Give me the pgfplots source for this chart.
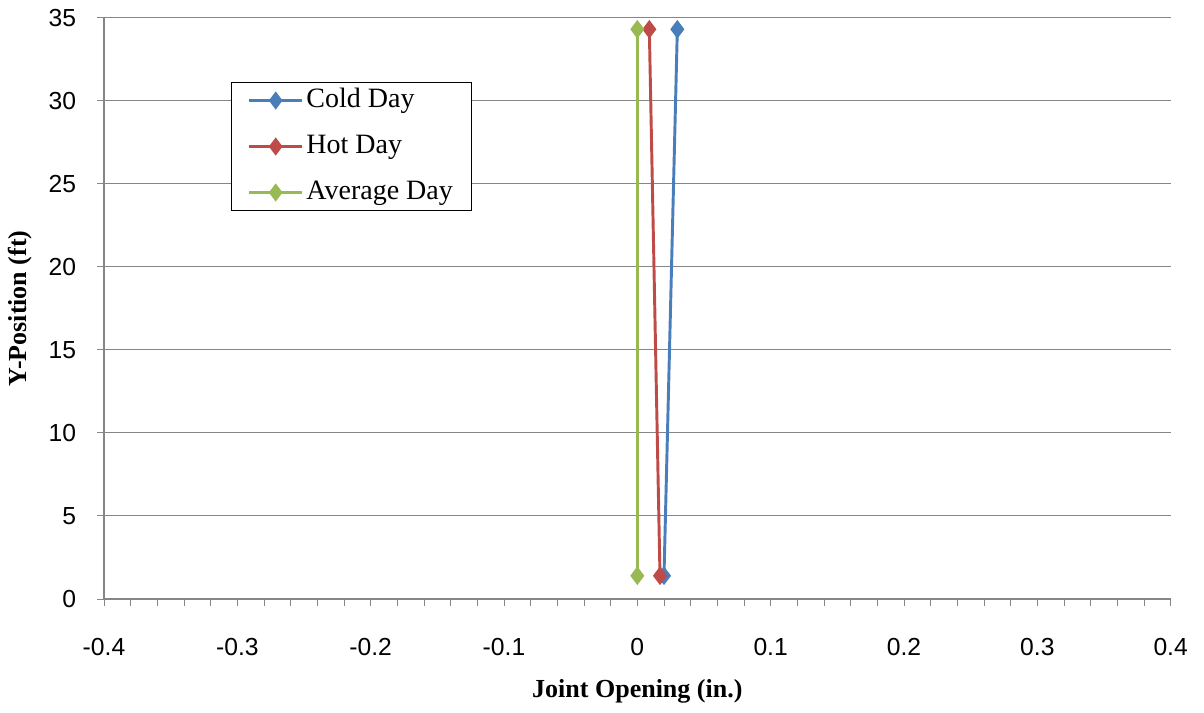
\documentclass[border=0pt]{standalone}
\usepackage{pgfplots}
\pgfplotsset{compat=1.18}
\usepackage{fontspec}
\setmainfont{Liberation Serif}
\setsansfont{Liberation Sans}
\definecolor{cblue}{HTML}{4A7EBB}
\definecolor{cred}{HTML}{BE4B48}
\definecolor{cgreen}{HTML}{98B954}
\definecolor{gridc}{HTML}{868686}
\begin{document}
\begin{tikzpicture}
\useasboundingbox (-78pt,-85.5pt) rectangle (825pt,449.25pt);
\begin{axis}[
  at={(0,0)}, anchor=south west,
  scale only axis,
  width=800pt, height=436pt,
  xmin=-0.4, xmax=0.4, ymin=0, ymax=35,
  xtick={-0.4,-0.3,-0.2,-0.1,0,0.1,0.2,0.3,0.4},
  xticklabels={-0.4,-0.3,-0.2,-0.1,0,0.1,0.2,0.3,0.4},
  minor x tick num=4,
  ytick={0,5,...,35},
  axis lines=left,
  axis line style={gridc, -, line width=0.8pt},
  tick style={gridc, line width=0.7pt},
  major tick length=5pt, minor tick length=5pt,
  tick align=outside,
  ymajorgrids, grid style={gridc, line width=0.8pt},
  /pgf/number format/assume math mode=true,
  tick label style={font=\sffamily\fontsize{18.5}{22}\selectfont},
  xticklabel style={anchor=center, yshift=-31pt},
  yticklabel style={anchor=east, inner sep=0pt, xshift=-15.75pt},
  xlabel={\textbf{Joint Opening (in.)}},
  ylabel={\textbf{Y-Position (ft)}},
  label style={font=\fontsize{19.5}{23}\selectfont},
  xlabel style={at={(axis description cs:0.5,-0.158)}, anchor=center},
  ylabel style={at={(axis description cs:-0.07875,0.5)}, anchor=center},
  legend style={at={(0.1191,0.8899)}, anchor=north west, draw=black, line width=0.8pt,
    font=\fontsize{21}{25}\selectfont, row sep=12.5pt, inner xsep=12pt, inner ysep=2.75pt,
    nodes={inner sep=2pt, text height=14pt, text depth=4pt}},
  legend cell align=left,
  legend image code/.code={\draw[#1, line width=2.2pt] (0pt,0pt) -- (40pt,0pt); \draw[#1, mark=diamond*, mark size=5pt, mark options={solid}] plot coordinates {(20pt,0pt)};},
  clip=false,
]
\addplot[cblue, line width=2.2pt, mark=diamond*, mark size=5.2pt] coordinates {(0.02,1.4) (0.03,34.3)};
\addlegendentry{Cold Day}
\addplot[cred, line width=2.2pt, mark=diamond*, mark size=5.2pt] coordinates {(0.017,1.4) (0.009,34.3)};
\addlegendentry{Hot Day}
\addplot[cgreen, line width=2.2pt, mark=diamond*, mark size=5.2pt] coordinates {(0,1.4) (0,34.3)};
\addlegendentry{Average Day}
\end{axis}
\end{tikzpicture}
\end{document}
